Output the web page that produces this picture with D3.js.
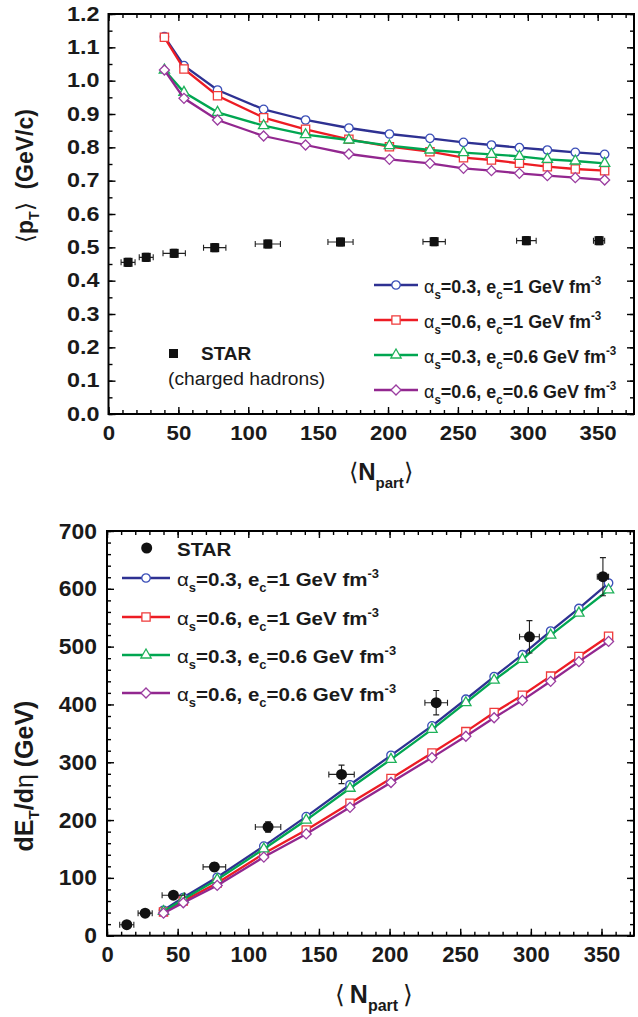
<!DOCTYPE html>
<html>
<head>
<meta charset="utf-8">
<script src="https://cdn.jsdelivr.net/npm/d3@7"></script>
<style>
  body { margin: 0; background: #fff; }
  text { font-family: "Liberation Sans", Arial, sans-serif; }
</style>
</head>
<body>
<div id="chart"></div>
<script>
// Npart of the model points (shared by both panels)
var nPartModel = [40, 54, 78, 111, 141, 172, 201, 230, 254, 274, 294, 314, 334, 355];

// top panel: <pT> (GeV/c)
var ptBlue   = [1.132, 1.045, 0.972, 0.914, 0.882, 0.858, 0.840, 0.827, 0.815, 0.807, 0.799, 0.792, 0.785, 0.779];
var ptRed    = [1.130, 1.035, 0.955, 0.889, 0.854, 0.824, 0.802, 0.787, 0.769, 0.762, 0.752, 0.742, 0.735, 0.730];
var ptGreen  = [1.032, 0.965, 0.905, 0.865, 0.838, 0.822, 0.805, 0.792, 0.784, 0.779, 0.773, 0.764, 0.759, 0.752];
var ptPurple = [1.032, 0.947, 0.882, 0.834, 0.807, 0.780, 0.764, 0.752, 0.737, 0.730, 0.722, 0.715, 0.709, 0.702];

// STAR data
var starNpart = [14, 27, 47, 76, 114, 166, 233, 299, 351];
var starNerr  = [5, 5, 8, 8, 9, 9, 8, 7, 4];
var starPt    = [0.455, 0.470, 0.482, 0.499, 0.510, 0.516, 0.517, 0.520, 0.520];
var starPtErr = [0.012, 0.012, 0.012, 0.012, 0.012, 0.012, 0.012, 0.012, 0.012];
var starEt    = [19, 39, 70, 119, 188, 279, 403, 517, 621];
var starEtErr = [3, 4, 5, 7, 9, 16, 21, 28, 33];

// bottom panel: dET/deta (GeV)
var etBlue   = [44, 66, 101, 155, 206, 261, 312, 363, 409, 448, 486, 527, 566, 610];
var etRed    = [41, 60, 91, 142, 183, 229, 272, 316, 353, 386, 416, 449, 483, 518];
var etGreen  = [42, 63, 97, 150, 200, 255, 305, 357, 403, 442, 478, 520, 558, 598];
var etPurple = [39, 57, 87, 136, 176, 222, 265, 308, 345, 377, 407, 440, 474, 509];

var seriesNames = ["blue", "red", "green", "purple"];
var alphaS = ["0.3", "0.6", "0.3", "0.6"];
var eC     = ["1", "1", "0.6", "0.6"];

var lineColor   = {blue: "#2e3192", red: "#ed1c24", green: "#00a651", purple: "#92278f"};
var markerColor = {blue: "#3b4fb8", red: "#f03a3a", green: "#1fb25a", purple: "#9b3da0"};
var markerShape = {blue: "circle", red: "square", green: "triangle", purple: "diamond"};

var ink = "#1a1a1a";

var svg = d3.select("#chart").append("svg")
    .attr("width", 638)
    .attr("height", 1017);

function markerPath(shape) {
  if (shape == "circle") return d3.symbol(d3.symbolCircle, 56)();
  if (shape == "square") return d3.symbol(d3.symbolSquare, 68)();
  if (shape == "triangle") return d3.symbol(d3.symbolTriangle, 46)();
  return d3.symbol(d3.symbolSquare, 50)();
}

function drawMarker(g, name, px, py) {
  g.append("path")
      .attr("d", markerPath(markerShape[name]))
      .attr("transform", "translate(" + px + "," + py + ")" + (markerShape[name] == "diamond" ? " rotate(45)" : ""))
      .style("fill", "#fff")
      .style("stroke", markerColor[name])
      .style("stroke-width", 1.3);
}

// opts: xFont, xStretch, yFont, yStretch
function drawAxes(x, y, xMinor, yTicks, yMinor, yFormat, opts) {
  var g = svg.append("g");
  var x0 = x.range()[0], x1 = x.range()[1];
  var y0 = y.range()[0], y1 = y.range()[1];

  var bottom = g.append("g").attr("transform", "translate(0," + y0 + ")");
  bottom.call(d3.axisBottom(x).tickValues(xMinor).tickSize(-4).tickFormat(""));
  var xl = bottom.append("g").call(d3.axisBottom(x).tickValues(d3.range(0, 351, 50)).tickSize(-7).tickPadding(11));
  xl.selectAll(".tick text")
      .style("font-size", opts.xFont + "px")
      .attr("transform", "scale(" + opts.xStretch + ",1)");

  var top = g.append("g").attr("transform", "translate(0," + y1 + ")");
  top.call(d3.axisTop(x).tickValues(xMinor).tickSize(-4).tickFormat(""));
  top.append("g").call(d3.axisTop(x).tickValues(d3.range(0, 351, 50)).tickSize(-7).tickFormat(""));

  var left = g.append("g").attr("transform", "translate(" + x0 + ",0)");
  left.call(d3.axisLeft(y).tickValues(yMinor).tickSize(-4).tickFormat(""));
  var yl = left.append("g").call(d3.axisLeft(y).tickValues(yTicks).tickSize(-7)
      .tickPadding(opts.yPad / opts.yStretch).tickFormat(yFormat));
  yl.selectAll(".tick text")
      .style("font-size", opts.yFont + "px")
      .attr("transform", "scale(" + opts.yStretch + ",1)");

  var right = g.append("g").attr("transform", "translate(" + x1 + ",0)");
  right.call(d3.axisRight(y).tickValues(yMinor).tickSize(-4).tickFormat(""));
  right.append("g").call(d3.axisRight(y).tickValues(yTicks).tickSize(-7).tickFormat(""));

  g.selectAll(".domain").remove();
  g.selectAll(".tick line").style("stroke", "#000").style("stroke-width", 1.4);
  g.selectAll(".tick text")
      .style("font-weight", "bold")
      .style("fill", ink);

  g.append("rect")
      .attr("x", x0).attr("y", y1)
      .attr("width", x1 - x0).attr("height", y0 - y1)
      .style("fill", "none")
      .style("stroke", "#000")
      .style("stroke-width", 2);
}

function drawCurves(x, y, values) {
  seriesNames.forEach(function(name, k) {
    var pts = nPartModel.map(function(n, i) { return [n, values[k][i]]; });
    var g = svg.append("g");
    g.append("path")
        .datum(pts)
        .attr("d", d3.line().x(function(d) { return x(d[0]); }).y(function(d) { return y(d[1]); }))
        .style("fill", "none")
        .style("stroke", lineColor[name])
        .style("stroke-width", 2.3);
    pts.forEach(function(d) { drawMarker(g, name, x(d[0]), y(d[1])); });
  });
}

function drawStar(x, y, vals, errs, marker) {
  var g = svg.append("g");
  starNpart.forEach(function(n, i) {
    var cx = x(n), cy = y(vals[i]);
    var xl = x(n - starNerr[i]), xr = x(n + starNerr[i]);
    var yt = y(vals[i] + errs[i]), yb = y(vals[i] - errs[i]);
    var path = "M" + xl + "," + cy + "H" + xr +
               "M" + xl + "," + (cy - 3) + "V" + (cy + 3) +
               "M" + xr + "," + (cy - 3) + "V" + (cy + 3) +
               "M" + cx + "," + yt + "V" + yb +
               "M" + (cx - 3) + "," + yt + "H" + (cx + 3) +
               "M" + (cx - 3) + "," + yb + "H" + (cx + 3);
    g.append("path").attr("d", path).style("stroke", "#222").style("stroke-width", 1.1).style("fill", "none");
    if (marker == "square") {
      g.append("rect").attr("x", cx - 4.5).attr("y", cy - 4.5).attr("width", 9).attr("height", 9).style("fill", "#111");
    } else {
      g.append("circle").attr("cx", cx).attr("cy", cy).attr("r", 5.5).style("fill", "#111");
    }
  });
}

function legendLabel(g, tx, ty, k, size, stretch) {
  var t = g.append("text")
      .attr("transform", "translate(" + tx + "," + ty + ") scale(" + stretch + ",1)")
      .style("font-size", size + "px")
      .style("font-weight", "bold")
      .style("fill", ink);
  t.append("tspan").text("\u03b1").style("font-weight", "normal");
  t.append("tspan").text("s").attr("dy", 6).style("font-size", "12px");
  t.append("tspan").text("=" + alphaS[k] + ", e").attr("dy", -6);
  t.append("tspan").text("c").attr("dy", 6).style("font-size", "12px");
  t.append("tspan").text("=" + eC[k] + " GeV fm").attr("dy", -6);
  t.append("tspan").text("-3").attr("dy", -8).style("font-size", "12px");
}

function drawLegend(lx0, lx1, tx, rowY, size, stretch) {
  var g = svg.append("g");
  seriesNames.forEach(function(name, k) {
    var yy = rowY[k];
    g.append("line")
        .attr("x1", lx0).attr("x2", lx1).attr("y1", yy).attr("y2", yy)
        .style("stroke", lineColor[name]).style("stroke-width", 2.3);
    drawMarker(g, name, (lx0 + lx1) / 2, yy);
    legendLabel(g, tx, yy + 8, k, size, stretch);
  });
  return g;
}

// ---------- top panel ----------
var xTop = d3.scaleLinear().domain([0, 376]).range([108.5, 634]);
var yTop = d3.scaleLinear().domain([0, 1.2]).range([414, 14]);

drawAxes(xTop, yTop, d3.range(0, 376, 10),
  d3.range(0, 13).map(function(i) { return i / 10; }),
  d3.range(0, 25).map(function(i) { return i / 20; }),
  d3.format(".1f"),
  {xFont: 21, xStretch: 1.06, yFont: 19.5, yStretch: 1.2, yPad: 9});

drawStar(xTop, yTop, starPt, starPtErr, "square");
drawCurves(xTop, yTop, [ptBlue, ptRed, ptGreen, ptPurple]);
drawLegend(374, 418, 424, [285, 320, 355, 390], 18.5, 0.97);

var starTop = svg.append("g");
starTop.append("rect").attr("x", 169).attr("y", 349).attr("width", 9).attr("height", 9).style("fill", "#111");
starTop.append("text").attr("x", 201).attr("y", 360).text("STAR")
    .style("font-size", "19px").style("font-weight", "bold").style("fill", ink);
starTop.append("text")
    .attr("transform", "translate(168,385) scale(1.07,1)")
    .text("(charged hadrons)")
    .style("font-size", "18px").style("fill", ink);

// axis titles top
var ytTop = svg.append("text")
    .attr("transform", "translate(33,176) rotate(-90)")
    .attr("text-anchor", "middle")
    .style("font-size", "23px").style("font-weight", "bold").style("fill", ink);
ytTop.append("tspan").text("\u27e8").style("font-weight", "normal");
ytTop.append("tspan").text("p");
ytTop.append("tspan").text("T").attr("dy", 6).style("font-size", "14px");
ytTop.append("tspan").text("\u27e9").attr("dy", -6).style("font-weight", "normal");
ytTop.append("tspan").text("\u00a0 (GeV/c)");

var xtTop = svg.append("text")
    .attr("x", 381).attr("y", 480)
    .attr("text-anchor", "middle")
    .style("font-size", "24px").style("font-weight", "bold").style("fill", ink);
xtTop.append("tspan").text("\u27e8").style("font-weight", "normal");
xtTop.append("tspan").text("N");
xtTop.append("tspan").text("part").attr("dy", 8).style("font-size", "15px");
xtTop.append("tspan").text("\u27e9").attr("dy", -8).style("font-weight", "normal");

// ---------- bottom panel ----------
var xBot = d3.scaleLinear().domain([0, 373]).range([107, 634]);
var yBot = d3.scaleLinear().domain([0, 700]).range([935.7, 531]);

drawAxes(xBot, yBot, d3.range(0, 371, 10),
  d3.range(0, 701, 100),
  d3.range(0, 701, 20),
  d3.format("d"),
  {xFont: 22, xStretch: 1.0, yFont: 22, yStretch: 1.04, yPad: 10});

drawCurves(xBot, yBot, [etBlue, etRed, etGreen, etPurple]);
drawStar(xBot, yBot, starEt, starEtErr, "circle");
drawLegend(122, 170, 177, [578, 617, 655, 693], 19, 1.08);

svg.append("circle").attr("cx", 146.7).attr("cy", 548).attr("r", 5.5).style("fill", "#111");
svg.append("text")
    .attr("transform", "translate(177,556) scale(1.08,1)")
    .text("STAR")
    .style("font-size", "19px").style("font-weight", "bold").style("fill", ink);

var ytBot = svg.append("text")
    .attr("transform", "translate(33,776) rotate(-90)")
    .attr("text-anchor", "middle")
    .style("font-size", "25px").style("font-weight", "bold").style("fill", ink);
ytBot.append("tspan").text("dE");
ytBot.append("tspan").text("T").attr("dy", 6).style("font-size", "15px");
ytBot.append("tspan").text("/d").attr("dy", -6);
ytBot.append("tspan").text("\u03b7").style("font-weight", "normal");
ytBot.append("tspan").text(" (GeV)");

var xtBot = svg.append("text")
    .attr("x", 374).attr("y", 1003)
    .attr("text-anchor", "middle")
    .style("font-size", "25px").style("font-weight", "bold").style("fill", ink);
xtBot.append("tspan").text("\u27e8\u2009").style("font-weight", "normal");
xtBot.append("tspan").text("N");
xtBot.append("tspan").text("part").attr("dy", 8).style("font-size", "16px");
xtBot.append("tspan").text("\u2009\u27e9").attr("dy", -8).style("font-weight", "normal");
</script>
</body>
</html>
